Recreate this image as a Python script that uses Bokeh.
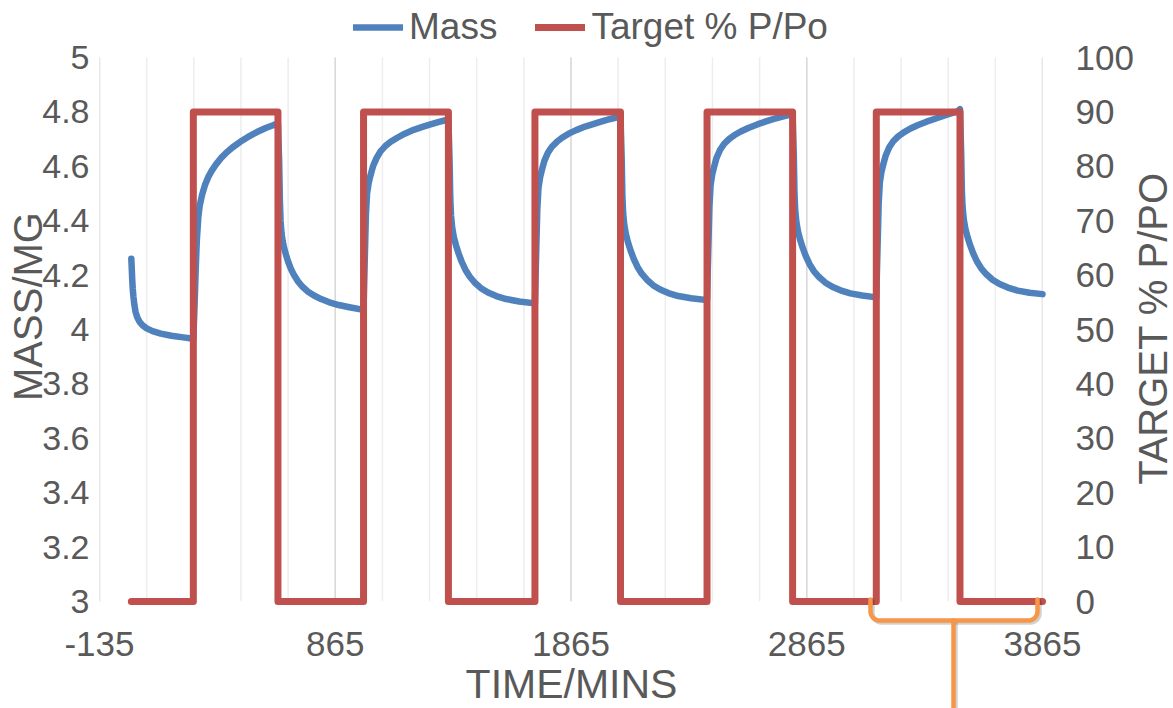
import math
from bokeh.plotting import figure
from bokeh.models import (Range1d, LinearAxis, FixedTicker, Legend, LegendItem,
                          CustomJSTickFormatter)
from bokeh.core.properties import value
from bokeh.embed import file_html
from bokeh.resources import INLINE

# ---------------- data ----------------
mass_time_min = [
    0, 2, 4, 6, 9, 13, 18, 25, 35, 48, 65, 90, 125, 170, 220, 263,
    268, 273, 278, 284, 290, 300, 312, 326, 342, 360, 380, 405, 430, 462, 495, 533, 570, 604, 622,
    627, 630, 633, 637, 642, 648, 656, 665, 676, 690, 706, 725, 748, 775, 805, 840, 880, 925, 985,
    990, 995, 1000, 1007, 1014, 1025, 1040, 1057, 1078, 1100, 1128, 1160, 1198, 1235, 1269, 1305, 1345,
    1350, 1353, 1356, 1361, 1368, 1377, 1388, 1401, 1417, 1435, 1457, 1483, 1513, 1548, 1590, 1645, 1712,
    1717, 1722, 1727, 1734, 1741, 1752, 1767, 1784, 1805, 1827, 1855, 1887, 1925, 1962, 1996, 2032, 2075,
    2080, 2083, 2086, 2091, 2098, 2107, 2118, 2131, 2147, 2165, 2187, 2213, 2243, 2278, 2320, 2375, 2442,
    2447, 2452, 2457, 2464, 2471, 2482, 2497, 2514, 2535, 2557, 2585, 2617, 2655, 2692, 2726, 2762, 2805,
    2810, 2813, 2816, 2821, 2828, 2837, 2848, 2861, 2877, 2895, 2917, 2943, 2973, 3008, 3050, 3100, 3160,
    3165, 3170, 3175, 3182, 3189, 3200, 3215, 3232, 3253, 3275, 3303, 3335, 3373, 3410, 3444, 3480, 3505, 3515,
    3520, 3523, 3526, 3531, 3538, 3547, 3558, 3571, 3587, 3605, 3627, 3653, 3683, 3718, 3760, 3810, 3865,
]
mass_mg = [
    4.26, 4.22, 4.18, 4.15, 4.12, 4.09, 4.065, 4.045, 4.028, 4.015, 4.004, 3.994, 3.985, 3.977, 3.971, 3.966,
    4.08, 4.22, 4.33, 4.41, 4.455, 4.495, 4.53, 4.56, 4.585, 4.608, 4.63, 4.652, 4.67, 4.69, 4.708, 4.726, 4.741, 4.752, 4.757,
    4.62, 4.48, 4.40, 4.355, 4.325, 4.30, 4.275, 4.25, 4.225, 4.20, 4.178, 4.158, 4.14, 4.125, 4.112, 4.10, 4.09, 4.082, 4.072,
    4.25, 4.42, 4.50, 4.54, 4.565, 4.60, 4.63, 4.655, 4.675, 4.69, 4.705, 4.72, 4.734, 4.745, 4.754, 4.763, 4.772,
    4.62, 4.48, 4.42, 4.375, 4.34, 4.31, 4.28, 4.25, 4.22, 4.195, 4.172, 4.152, 4.136, 4.123, 4.112, 4.103, 4.096,
    4.27, 4.44, 4.52, 4.56, 4.585, 4.62, 4.65, 4.672, 4.69, 4.705, 4.72, 4.733, 4.746, 4.756, 4.765, 4.774, 4.783,
    4.63, 4.49, 4.43, 4.385, 4.35, 4.32, 4.29, 4.26, 4.23, 4.205, 4.183, 4.163, 4.147, 4.134, 4.123, 4.115, 4.108,
    4.28, 4.45, 4.53, 4.57, 4.595, 4.63, 4.66, 4.682, 4.70, 4.714, 4.728, 4.741, 4.754, 4.765, 4.774, 4.783, 4.792,
    4.64, 4.50, 4.44, 4.395, 4.36, 4.33, 4.30, 4.27, 4.24, 4.215, 4.193, 4.173, 4.157, 4.144, 4.133, 4.125, 4.118,
    4.29, 4.46, 4.54, 4.58, 4.605, 4.64, 4.67, 4.692, 4.71, 4.724, 4.738, 4.751, 4.764, 4.775, 4.785, 4.795, 4.802, 4.81,
    4.65, 4.51, 4.45, 4.405, 4.37, 4.34, 4.31, 4.28, 4.25, 4.225, 4.203, 4.183, 4.167, 4.154, 4.143, 4.135, 4.13,
]
target_time_min = [0, 263, 263, 622, 622, 985, 985, 1345, 1345, 1712, 1712, 2075,
                   2075, 2442, 2442, 2805, 2805, 3160, 3160, 3515, 3515, 3865]
target_pct = [0, 0, 90, 90, 0, 0, 90, 90, 0, 0, 90, 90,
              0, 0, 90, 90, 0, 0, 90, 90, 0, 0]

x_tick_values = [-135, 865, 1865, 2865, 3865]
x_minor_values = [-135 + 200 * k for k in range(21)]
mass_ticks = [3, 3.2, 3.4, 3.6, 3.8, 4, 4.2, 4.4, 4.6, 4.8, 5]
pct_ticks = [0, 10, 20, 30, 40, 50, 60, 70, 80, 90, 100]

# ---------------- layout constants ----------------
W, H = 1173, 708
B_LEFT, B_RIGHT, B_TOP, B_BOTTOM = 99, 131, 0, 107
FW, FH = W - B_LEFT - B_RIGHT, H - B_TOP - B_BOTTOM
PLOT_TOP_PX = 57            # pixel row of the axis maximum (5 mg / 100 %)
FRAME_BOTTOM_PX = H - B_BOTTOM
X0, X1 = -135, 3865
M0, M1 = 3, 5               # mass axis span
P0, P1 = 0, 100             # target axis span
# the frame reaches the top of the picture so the legend can sit above the data
M_TOP = M1 + (PLOT_TOP_PX - B_TOP) * (M1 - M0) / (FRAME_BOTTOM_PX - PLOT_TOP_PX)
P_TOP = P1 + (PLOT_TOP_PX - B_TOP) * (P1 - P0) / (FRAME_BOTTOM_PX - PLOT_TOP_PX)

BLUE, RED, ORANGE, TXT = "#4F81BD", "#C0504D", "#F79646", "#595959"
FONT = "Liberation Sans"
TICK_SIZE = "35px"


def dx(px):
    return X0 + (px - B_LEFT) * (X1 - X0) / FW


def dy(py):
    return M0 + (FRAME_BOTTOM_PX - py) * (M_TOP - M0) / FH


p = figure(width=W, height=H, output_backend="svg", toolbar_location=None,
           x_range=Range1d(X0, X1), y_range=Range1d(M0, M_TOP),
           min_border_left=B_LEFT, min_border_right=B_RIGHT,
           min_border_top=B_TOP, min_border_bottom=B_BOTTOM)
p.outline_line_color = None
p.background_fill_color = "white"
p.border_fill_color = "white"
p.extra_y_ranges = {"pct": Range1d(P0, P_TOP)}

# vertical grid lines (drawn only over the value area, as in the reference)
p.xgrid.grid_line_color = None
p.ygrid.grid_line_color = None
p.segment(x0=x_minor_values, y0=[M0] * len(x_minor_values),
          x1=x_minor_values, y1=[M1] * len(x_minor_values),
          line_color="#EDEDED", line_width=1.5, level="underlay")
p.segment(x0=x_tick_values, y0=[M0] * len(x_tick_values),
          x1=x_tick_values, y1=[M1] * len(x_tick_values),
          line_color="#D9D9D9", line_width=1.5, level="underlay")

# x axis
xax = p.xaxis[0]
xax.ticker = FixedTicker(ticks=x_tick_values, minor_ticks=x_minor_values)
xax.formatter = CustomJSTickFormatter(code="return tick.toString()")
xax.major_label_text_font = FONT
xax.major_label_text_font_size = TICK_SIZE
xax.major_label_text_color = TXT
xax.major_label_standoff = 24
xax.axis_line_color = None
xax.major_tick_line_color = None
xax.minor_tick_line_color = None

# left axis
yax = p.yaxis[0]
yax.ticker = FixedTicker(ticks=mass_ticks)
yax.formatter = CustomJSTickFormatter(code="return (Math.round(tick*10)/10).toString()")
yax.major_label_text_font = FONT
yax.major_label_text_font_size = "34px"
yax.major_label_text_color = TXT
yax.major_label_standoff = 4
yax.axis_line_color = None
yax.major_tick_line_color = None
yax.minor_tick_line_color = None

# right axis
rax = LinearAxis(y_range_name="pct", ticker=FixedTicker(ticks=pct_ticks))
rax.major_label_text_font = FONT
rax.major_label_text_font_size = TICK_SIZE
rax.major_label_text_color = TXT
rax.major_label_standoff = 27
rax.axis_line_color = None
rax.major_tick_line_color = None
rax.minor_tick_line_color = None
p.add_layout(rax, "right")

# series
blue = p.line(mass_time_min, mass_mg, line_color=BLUE, line_width=6.5,
              line_cap="round", line_join="round", level="overlay")
red = p.line(target_time_min, target_pct, y_range_name="pct", line_color=RED,
             line_width=7, line_cap="round", line_join="round", level="overlay")

# axis titles
for txt, px, py, ang, size in [
        ("MASS/MG", 27, 306, math.pi / 2, "40px"),
        ("TARGET % P/PO", 1152, 328, math.pi / 2, "40px"),
        ("TIME/MINS", 571, 683, 0, "41px")]:
    p.text(x=[dx(px)], y=[dy(py)], text=[txt], angle=ang,
           text_align="center", text_baseline="middle",
           text_font=value(FONT), text_font_size=size,
           text_color=TXT, level="overlay")

# legend above the data, inside the (extended) frame
legend = Legend(items=[LegendItem(label="Mass", renderers=[blue]),
                       LegendItem(label="Target % P/Po", renderers=[red])],
                orientation="horizontal", location=(254, FRAME_BOTTOM_PX - 48),
                label_text_font=FONT, label_text_font_size="37px",
                label_text_color=TXT, glyph_width=50, glyph_height=20,
                label_standoff=6, spacing=38, padding=0, margin=0,
                border_line_color=None, background_fill_alpha=0)
p.add_layout(legend)

# orange bracket annotation below the last sorption step
def arc(cx, cy, r, a0, a1, n=6):
    return [(cx + r * math.cos(a0 + (a1 - a0) * i / n),
             cy + r * math.sin(a0 + (a1 - a0) * i / n)) for i in range(n + 1)]

L, R, C, TOP, HY, RAD = 870, 1037, 953, 599, 620, 9
path = [(L, TOP)] + arc(L + RAD, HY - RAD, RAD, math.pi, math.pi / 2) + \
       [(C, HY)] + arc(R - RAD, HY - RAD, RAD, math.pi / 2, 0) + [(R, TOP)]
stem = [(C, HY), (C, H + 5)]
for pts, col, alpha, off in [(path, "#000000", 0.18, 2), (stem, "#000000", 0.18, 2),
                             (path, ORANGE, 1.0, 0), (stem, ORANGE, 1.0, 0)]:
    p.line([dx(a + off) for a, b in pts], [dy(b + off) for a, b in pts],
           line_color=col, line_alpha=alpha, line_width=4.5,
           line_cap="round", line_join="round", level="overlay")

open("out.html", "w").write(file_html(p, INLINE))
